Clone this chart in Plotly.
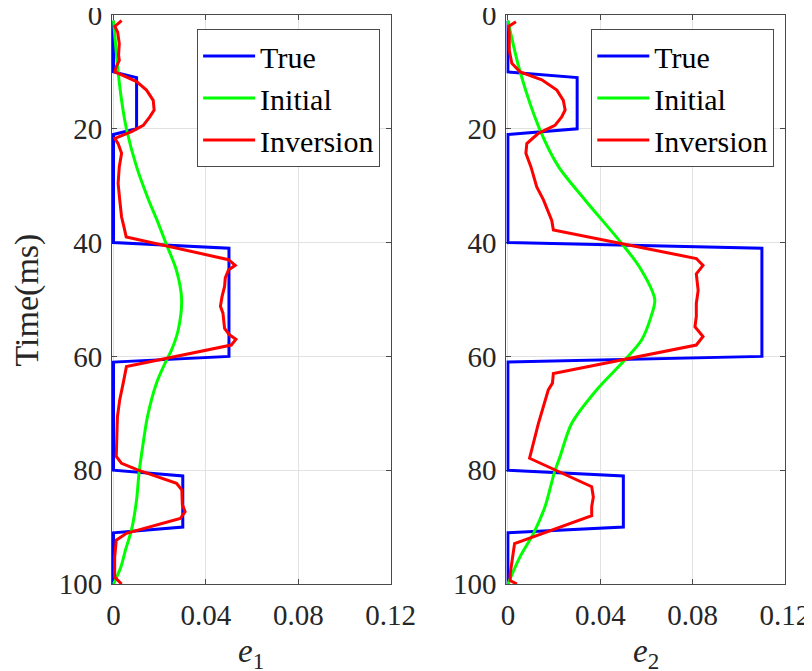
import plotly.graph_objects as go

# ---------------- data ----------------
# True models (piecewise constant, breakpoints in ms)
true_t = [1, 10, 11, 20, 21, 40, 41, 60, 61, 80, 81, 90, 91, 100]
true_e1 = [0, 0, 0.01, 0.01, 0, 0, 0.05, 0.05, 0, 0, 0.03, 0.03, 0, 0]
true_e2 = [0, 0, 0.03, 0.03, 0, 0, 0.11, 0.11, 0, 0, 0.05, 0.05, 0, 0]

# Initial models
init1_t = [1, 10, 15, 20, 26.7, 32.5, 36, 40.4, 44.8, 50, 55.4, 58.9, 60.6, 64.7, 70.6, 76.5,
           80.3, 85.2, 90.5, 94, 97, 100]
init1_v = [0, 0.002, 0.0035, 0.0056, 0.010, 0.0152, 0.0188, 0.023, 0.0272, 0.0295, 0.0280,
           0.0251, 0.023, 0.0186, 0.0147, 0.0124, 0.0111, 0.0100, 0.0078, 0.0052, 0.0032, 0]
init2_t = [1, 10, 20, 26.7, 32.5, 40, 44.3, 50, 53, 57.1, 60.6, 65.9, 71.8, 77.6, 80.6, 86.4,
           91.1, 95.2, 100]
init2_v = [0, 0.0053, 0.0137, 0.022, 0.0334, 0.049, 0.057, 0.0636, 0.062, 0.0579, 0.0507, 0.0384,
           0.0276, 0.0226, 0.020, 0.0161, 0.0111, 0.0053, 0]

# Inversion results
inv1_t = [1, 2, 3, 5, 7, 8, 9, 10, 10.6, 11.7, 13.2, 15, 16.7, 17.9, 19.4, 20.5, 21.7, 22.6, 23.5,
          24.3, 26.7, 29.6, 32.5, 35.5, 37.2, 39, 43, 44, 44.8, 46.2, 47.7, 49.5, 51.2, 52.4, 53.6,
          55.1, 56.2, 57, 58, 61.8, 64.7, 67.6, 70.6, 75.2, 77.6, 78.8, 80, 82.3, 83.5, 86,
          87.3, 88.5, 91.1, 92.3, 95.3, 98.8, 100]
inv1_v = [0.0035, 0.0006, 0.0018, 0.0025, 0.0022, 0.0025, 0.0013, 0.0006, 0.004, 0.010, 0.0143,
          0.0172, 0.0176, 0.0157, 0.0129, 0.0078, 0.0006, 0.002, 0.0028, 0.0035, 0.0025, 0.002,
          0.0027, 0.0035, 0.0045, 0.0055, 0.0498, 0.0527, 0.0498, 0.0484, 0.0481, 0.047, 0.0463,
          0.0474, 0.0477, 0.0481, 0.0502, 0.053, 0.051, 0.0056, 0.0042, 0.0027, 0.0017, 0.0012,
          0.0012, 0.0035, 0.0107, 0.0273, 0.0296, 0.0298, 0.031, 0.0289, 0.0056, 0.0012, 0.0005,
          0.0005, 0.0035]
inv2_t = [1.2, 2, 3.2, 6.2, 8.5, 10, 11.4, 13.2, 15, 16.7, 17.9, 19.4, 20.8, 22.6, 24.3, 26.7,
          30.2, 32.5, 36.1, 37.8, 42.8, 44, 45.5, 48.4, 50.7, 53, 54.8, 56.5, 58, 63, 64.7, 65.9,
          71.8, 76.5, 77.9, 82.9, 84.7, 86.4, 88, 92.9, 95.3, 98.2, 99.4, 100]
inv2_v = [0.0035, 0.0003, 0.0006, 0.0006, 0.0017, 0.0053, 0.0147, 0.0212, 0.024, 0.0248, 0.0233,
          0.0204, 0.0132, 0.0082, 0.0078, 0.010, 0.0125, 0.0154, 0.019, 0.0197, 0.0816, 0.0845,
          0.0816, 0.0824, 0.0816, 0.0816, 0.081, 0.0845, 0.0816, 0.0197, 0.0193, 0.0175, 0.0132,
          0.0104, 0.0094, 0.0363, 0.037, 0.0363, 0.0363, 0.0029, 0.002, 0.001, 0.001, 0.0039]

x_ticks = [0, 0.04, 0.08, 0.12]
x_ticktext = ["0", "0.04", "0.08", "0.12"]
y_ticks = [0, 20, 40, 60, 80, 100]
y_ticktext = ["0", "20", "40", "60", "80", "100"]
legend_names = ["True", "Initial", "Inversion"]

# ---------------- figure ----------------
FONT = "Liberation Serif"
TXT = "#262626"
AX = "#4a4a4a"
BLUE, GREEN, RED = "#0000ff", "#00ff00", "#ff0000"

fig = go.Figure()

panels = [
    ("x", "y", "legend", true_e1, init1_t, init1_v, inv1_t, inv1_v),
    ("x2", "y2", "legend2", true_e2, init2_t, init2_v, inv2_t, inv2_v),
]
for xa, ya, lg, tv, it, iv, rt, rv in panels:
    fig.add_trace(go.Scatter(x=tv, y=true_t, mode="lines", name=legend_names[0],
                             line=dict(color=BLUE, width=3), xaxis=xa, yaxis=ya, legend=lg))
    fig.add_trace(go.Scatter(x=iv, y=it, mode="lines", name=legend_names[1],
                             line=dict(color=GREEN, width=3, shape="spline", smoothing=0.8),
                             xaxis=xa, yaxis=ya, legend=lg))
    fig.add_trace(go.Scatter(x=rv, y=rt, mode="lines", name=legend_names[2],
                             line=dict(color=RED, width=3), xaxis=xa, yaxis=ya, legend=lg))

# the page body adds an 8 px offset, so the figure is laid out 8 px smaller
W, H = 804, 663
ml, mr, mt, mb = 104, 27.3, 7.3, 87.2
pw = W - ml - mr
ph = H - mt - mb
dom1 = [0, 278.5 / pw]
dom2 = [(498.2 - ml) / pw, 1]

xcommon = dict(range=[-0.00065, 0.12], tickvals=x_ticks, ticktext=x_ticktext,
               showgrid=True, gridcolor="#e2e2e2", gridwidth=1, zeroline=False,
               showline=True, linecolor=AX, linewidth=1, mirror="ticks",
               ticks="inside", ticklen=5, tickcolor=AX, layer="below traces",
               automargin=False, ticklabeloverflow="allow", ticklabelstandoff=5,
               tickfont=dict(family=FONT, size=29, color=TXT))
ycommon = dict(range=[100, 0], tickvals=y_ticks, ticktext=y_ticktext,
               showgrid=True, gridcolor="#e2e2e2", gridwidth=1, zeroline=False,
               showline=True, linecolor=AX, linewidth=1, mirror="ticks",
               ticks="inside", ticklen=5, tickcolor=AX, layer="below traces",
               automargin=False, ticklabeloverflow="allow", ticklabelstandoff=3,
               tickfont=dict(family=FONT, size=29, color=TXT))

legcommon = dict(font=dict(family=FONT, size=30, color="#000000"), bgcolor="white",
                 bordercolor=AX, borderwidth=1, xanchor="right", yanchor="top",
                 itemwidth=52, tracegroupgap=0)

fig.update_layout(
    width=W, height=H, autosize=False,
    margin=dict(l=ml, r=mr, t=mt, b=mb),
    plot_bgcolor="white", paper_bgcolor="white",
    font=dict(family=FONT, color=TXT),
    xaxis=dict(domain=dom1, anchor="y", **xcommon),
    yaxis=dict(domain=[0, 1], anchor="x", **ycommon),
    xaxis2=dict(domain=dom2, anchor="y2", **xcommon),
    yaxis2=dict(domain=[0, 1], anchor="x2", **ycommon),
    legend=dict(x=(372 - ml) / pw, y=1 - 14 / ph, **legcommon),
    legend2=dict(x=(766 - ml) / pw, y=1 - 14 / ph, **legcommon),
    annotations=[
        dict(text="Time(ms)", textangle=-90, xref="paper", yref="paper",
             x=(19 - ml) / pw, y=0.5, xanchor="center", yanchor="middle", showarrow=False,
             font=dict(family=FONT, size=34, color=TXT)),
        dict(text="<i>e</i><sub>1</sub>", xref="paper", yref="paper",
             x=(dom1[0] + dom1[1]) / 2, y=-(645 - (H - mb)) / ph,
             xanchor="center", yanchor="middle", showarrow=False,
             font=dict(family=FONT, size=33, color=TXT)),
        dict(text="<i>e</i><sub>2</sub>", xref="paper", yref="paper",
             x=(dom2[0] + dom2[1]) / 2, y=-(645 - (H - mb)) / ph,
             xanchor="center", yanchor="middle", showarrow=False,
             font=dict(family=FONT, size=33, color=TXT)),
    ],
)

fig.write_html("out.html")
